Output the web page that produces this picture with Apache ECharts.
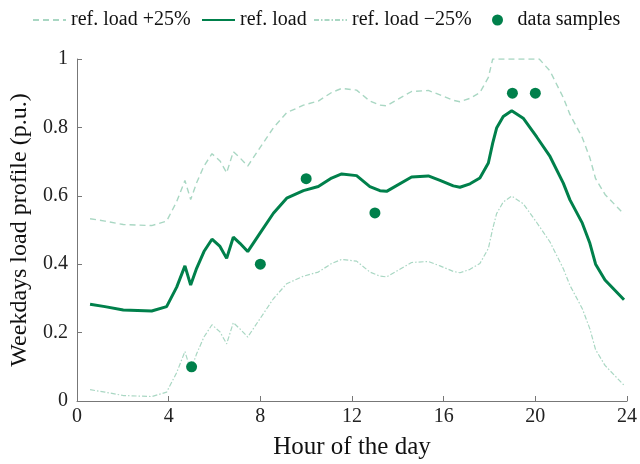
<!DOCTYPE html>
<html>
<head>
<meta charset="utf-8">
<script src="https://cdn.jsdelivr.net/npm/echarts@6/dist/echarts.min.js"></script>
<style>html,body{margin:0;padding:0;background:#fff}#c{width:640px;height:464px}</style>
</head>
<body>
<div id="c"></div>
<script>
const refHours = [0.57,1.22,2.02,3.26,3.91,4.35,4.71,4.96,5.22,5.54,5.89,6.24,6.53,6.82,7.11,7.45,7.98,8.57,9.15,9.88,10.53,11.11,11.55,12.2,12.78,13.22,13.51,14.6,15.33,15.84,16.42,16.71,17.15,17.58,17.95,18.14,18.31,18.6,18.97,19.47,20.06,20.64,21.22,21.51,22.05,22.38,22.63,23.04,23.87];
const refLoad = [0.283,0.276,0.266,0.263,0.276,0.333,0.395,0.339,0.388,0.437,0.473,0.452,0.417,0.479,0.461,0.437,0.490,0.549,0.593,0.615,0.627,0.652,0.664,0.659,0.627,0.615,0.613,0.655,0.658,0.645,0.629,0.625,0.635,0.652,0.696,0.754,0.798,0.832,0.849,0.827,0.772,0.715,0.637,0.588,0.520,0.461,0.400,0.354,0.296];

const upperHours = [0.57,1.22,2.02,3.26,3.91,4.35,4.71,4.96,5.22,5.54,5.89,6.24,6.53,6.82,7.11,7.45,7.98,8.57,9.15,9.88,10.53,11.11,11.55,12.2,12.78,13.22,13.51,14.6,15.33,15.84,16.42,16.71,17.15,17.58,17.95,18.14,18.31,18.6,18.97,19.47,20.17,20.64,21.22,21.51,22.05,22.38,22.63,23.04,23.87];
const upperLoad = [0.533,0.526,0.516,0.513,0.526,0.583,0.645,0.589,0.638,0.687,0.723,0.702,0.667,0.729,0.711,0.687,0.740,0.799,0.843,0.865,0.877,0.902,0.914,0.909,0.877,0.865,0.863,0.905,0.908,0.895,0.879,0.875,0.885,0.902,0.946,1.0,1.0,1.0,1.0,1.0,1.0,0.965,0.887,0.838,0.770,0.711,0.650,0.604,0.546];

const lowerHours = [0.57,1.22,2.02,3.26,3.91,4.35,4.71,4.96,5.22,5.54,5.89,6.24,6.53,6.82,7.11,7.45,7.98,8.57,9.15,9.88,10.53,11.11,11.55,12.2,12.78,13.22,13.51,14.6,15.33,15.84,16.42,16.71,17.15,17.58,17.95,18.14,18.31,18.6,18.97,19.47,20.06,20.64,21.22,21.51,22.05,22.38,22.63,23.04,23.87];
const lowerLoad = [0.033,0.026,0.016,0.013,0.026,0.083,0.145,0.089,0.138,0.187,0.223,0.202,0.167,0.229,0.211,0.187,0.240,0.299,0.343,0.365,0.377,0.402,0.414,0.409,0.377,0.365,0.363,0.405,0.408,0.395,0.379,0.375,0.385,0.402,0.446,0.504,0.548,0.582,0.599,0.577,0.522,0.465,0.387,0.338,0.270,0.211,0.150,0.104,0.046];

const sampleHours = [5,8,10,13,19,20];
const sampleLoad = [0.1,0.4,0.65,0.55,0.9,0.9];

const xTicks = [0,4,8,12,16,20,24];

const pair = (xs, ys) => xs.map((x, i) => [x, ys[i]]);

const DARK = '#00804b';
const LIGHT = '#a9d7c3';
const FONT = 'Liberation Serif';
const legendText = {fontFamily: FONT, fontSize: 20, color: '#111'};
const lineLegend = (name, left) => ({
  data: [name], left: left, top: 10, padding: 0, itemWidth: 33, itemHeight: 14, itemGap: 0,
  itemStyle: {opacity: 0}, textStyle: legendText
});

const chart = echarts.init(document.getElementById('c'), null, {renderer: 'canvas'});
chart.setOption({
  animation: false,
  backgroundColor: '#fff',
  grid: {left: 77, right: 13, top: 59, bottom: 63, containLabel: false, outerBoundsMode: 'none'},
  legend: [
    lineLegend('ref. load +25%', 32),
    lineLegend('ref. load', 201),
    lineLegend('ref. load \u221225%', 313),
    {data: ['data samples'], left: 492, top: 10, padding: 0, itemWidth: 12, itemHeight: 11, itemGap: 0,
      textStyle: Object.assign({padding: [0, 0, 0, 9]}, legendText)}
  ],
  xAxis: {
    type: 'value', min: 0, max: 24, interval: 4,
    name: 'Hour of the day', nameLocation: 'middle', nameGap: 34,
    nameTextStyle: {fontFamily: FONT, fontSize: 25, color: '#111'},
    axisLine: {show: true, lineStyle: {color: '#777', width: 1}},
    axisTick: {show: true, inside: true, length: 5, lineStyle: {color: '#777'}},
    axisLabel: {fontFamily: FONT, fontSize: 20, color: '#222', margin: 6,
      formatter: v => xTicks.includes(v) ? String(v) : ''},
    splitLine: {show: false}
  },
  yAxis: {
    type: 'value', min: 0, max: 1, interval: 0.2,
    name: 'Weekdays load profile (p.u.)', nameLocation: 'middle', nameGap: 44,
    nameTextStyle: {fontFamily: FONT, fontSize: 24, color: '#111'},
    axisLine: {show: true, lineStyle: {color: '#777', width: 1}},
    axisTick: {show: true, inside: true, length: 5, lineStyle: {color: '#777'}},
    axisLabel: {fontFamily: FONT, fontSize: 20, color: '#222', margin: 9},
    splitLine: {show: false}
  },
  series: [
    {name: 'ref. load +25%', type: 'line', data: pair(upperHours, upperLoad), symbol: 'none',
      lineStyle: {color: LIGHT, width: 1.4, type: [6, 4]}, itemStyle: {color: LIGHT}, z: 2},
    {name: 'ref. load', type: 'line', data: pair(refHours, refLoad), symbol: 'none',
      lineStyle: {color: DARK, width: 3}, itemStyle: {color: DARK}, z: 3},
    {name: 'ref. load \u221225%', type: 'line', data: pair(lowerHours, lowerLoad), symbol: 'none',
      lineStyle: {color: LIGHT, width: 1.2, type: [5, 2, 1.5, 2]}, itemStyle: {color: LIGHT}, z: 2},
    {name: 'data samples', type: 'scatter', data: pair(sampleHours, sampleLoad), symbol: 'circle', symbolSize: 11,
      itemStyle: {color: DARK, opacity: 1}, z: 4}
  ]
});
</script>
</body>
</html>
